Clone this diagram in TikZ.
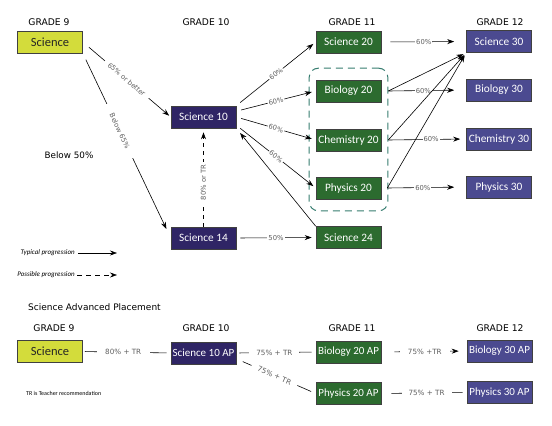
\documentclass[tikz,border=0pt]{standalone}
\usepackage{fontspec}
\setmainfont{Carlito}
\newfontfamily\hdrfont{DejaVu Sans}
\usetikzlibrary{arrows.meta,fit,calc}
\definecolor{yel}{RGB}{211,220,59}
\definecolor{purp}{RGB}{47,37,101}
\definecolor{grn}{RGB}{44,107,47}
\definecolor{blu}{RGB}{75,74,144}
\definecolor{teal2}{RGB}{55,125,112}
\definecolor{lblgray}{RGB}{95,95,95}
\tikzset{
  box/.style={minimum width=65pt, minimum height=22pt, inner sep=0pt, draw=black!75, line width=0.6pt, text=white, font=\fontsize{11.3}{13}\selectfont},
  yelbox/.style={box, fill=yel, text=black!85, font=\fontsize{12.5}{14}\selectfont},
  purpbox/.style={box, fill=purp},
  grnbox/.style={box, fill=grn},
  blubox/.style={box, fill=blu},
  apbox/.style={font=\fontsize{11}{13}\selectfont},
  hdr/.style={font=\hdrfont\fontsize{9.2}{11}\selectfont, inner sep=0pt},
  lbl/.style={font=\hdrfont\fontsize{6.8}{8}\selectfont, text=lblgray, fill=white, inner ysep=1pt, inner xsep=1pt},
  aplbl/.style={lbl, font=\hdrfont\fontsize{7.2}{8}\selectfont},
  arr/.style={-{Stealth[length=7pt,width=5pt]}, line width=0.6pt},
  ln/.style={line width=0.6pt},
  legtext/.style={font=\itshape\fontsize{7}{8}\selectfont, inner sep=0pt, anchor=east},
}
\begin{document}
\begin{tikzpicture}[x=1pt,y=-1pt]
\useasboundingbox[fill=white] (0,0) rectangle (552,426);

% ---------- headers ----------
\node[hdr] (h9) at (49,22) {GRADE 9};
\node[hdr] (h10) at (206,22) {GRADE 10};
\node[hdr] (h11) at (352,22) {GRADE 11};
\node[hdr] (h12) at (500,22) {GRADE 12};

% ---------- nodes ----------
\node[yelbox] (sci9) at (50,42) {Science};
\node[purpbox] (sci10) at (203.5,117) {Science 10};
\node[purpbox] (sci14) at (203.5,238) {Science 14};
\node[grnbox] (sci20) at (348.5,42) {Science 20};
\node[grnbox] (bio20) at (348.5,91) {Biology 20};
\node[grnbox] (chem20) at (348.5,140) {Chemistry 20};
\node[grnbox] (phys20) at (348.5,188) {Physics 20};
\node[grnbox] (sci24) at (348.5,237.5) {Science 24};
\node[blubox] (sci30) at (499,41.5) {Science 30};
\node[blubox] (bio30) at (499,90) {Biology 30};
\node[blubox] (chem30) at (499,139) {Chemistry 30};
\node[blubox] (phys30) at (499,187) {Physics 30};

\node[hdr, font=\hdrfont\fontsize{8.8}{10}\selectfont] (b50) at (69,155) {Below 50\%};

% dashed group
\node[draw=teal2, line width=1pt, dash pattern=on 7pt off 5pt, rounded corners=9pt,
      inner xsep=6.5pt, inner ysep=11.5pt, fit=(bio20)(phys20)] (grp) {};

% ---------- connectors ----------
\draw[arr, shorten <=8pt, shorten >=2pt] (sci9.east) -- node[lbl, sloped, pos=0.5, inner xsep=5pt] {65\% or better} (sci10.west);
\draw[arr, shorten <=7pt, shorten >=10pt] (sci9.south east) -- node[lbl, sloped, pos=0.42, inner xsep=11pt] {Below 65\%} (sci14.west);

\draw[arr, dash pattern=on 4pt off 4pt, shorten <=0pt, shorten >=4pt] (sci14.north) -- node[lbl, sloped, pos=0.45, inner xsep=3pt] {80\% or TR} (sci10.south);

\draw[arr, shorten <=5pt, shorten >=3pt] (sci10.north east) -- node[lbl, sloped, pos=0.5] {60\%} (sci20.west);
\draw[arr, shorten <=5pt, shorten >=4pt] (sci10.10) -- node[lbl, sloped, pos=0.5] {60\%} (bio20.west);
\draw[arr, shorten <=5pt, shorten >=4pt] (sci10.0) -- node[lbl, sloped, pos=0.5] {60\%} (chem20.west);
\draw[arr, shorten <=5pt, shorten >=3pt] (sci10.-14) -- node[lbl, sloped, pos=0.5] {60\%} (phys20.west);

\draw[arr, shorten >=6pt] (sci24.north west) -- (sci10.south east);
\draw[arr, shorten <=4pt, shorten >=4pt] (sci14.east) -- node[lbl, pos=0.5] {50\%} (sci24.west);

\coordinate (bioR) at ([xshift=7pt]bio20.east);
\coordinate (chemR) at ([xshift=7pt]chem20.east);
\coordinate (physR) at ([xshift=6pt]phys20.east);

\draw[arr, shorten <=9pt, shorten >=12pt] (sci20.east) -- node[lbl, pos=0.5] {60\%} (sci30.west);
\draw[arr, shorten >=12pt] (bioR) -- node[lbl, pos=0.45] {60\%} (bio30.west);
\draw[arr, shorten >=6pt] (chemR) -- node[lbl, pos=0.55] {60\%} (chem30.west);
\draw[arr, shorten >=12pt] (physR) -- node[lbl, pos=0.45] {60\%} (phys30.west);

\draw[arr, shorten >=3pt] (bioR) -- (sci30.south west);
\draw[arr, shorten >=3pt] (chemR) -- (sci30.south west);
\draw[arr, shorten >=3pt] (physR) -- (sci30.south west);

% ---------- legend ----------
\node[legtext] (legT) at (75,253) {Typical progression};
\node[legtext] (legP) at (75,275) {Possible progression};
\coordinate (legTend) at (117,253);
\coordinate (legPend) at (117,275);
\draw[arr] ([xshift=3pt]legT.east) -- (legTend);
\draw[arr, dash pattern=on 5pt off 4pt] ([xshift=2pt]legP.east) -- (legPend);

% ---------- Advanced Placement ----------
\node[hdr, anchor=west, font=\hdrfont\fontsize{9}{11}\selectfont] (sap) at (28,307) {Science Advanced Placement};
\node[hdr] (a9) at (54,328) {GRADE 9};
\node[hdr] (a10) at (206,328) {GRADE 10};
\node[hdr] (a11) at (352,328) {GRADE 11};
\node[hdr] (a12) at (500,328) {GRADE 12};

\node[yelbox] (sci9ap) at (50,351.5) {Science};
\node[purpbox, apbox] (sci10ap) at (203.5,353) {Science 10 AP};
\node[grnbox, apbox] (bio20ap) at (348.5,352) {Biology 20 AP};
\node[blubox, apbox] (bio30ap) at (499.5,351) {Biology 30 AP};
\node[grnbox, apbox] (phys20ap) at (348.5,393.5) {Physics 20 AP};
\node[blubox, apbox] (phys30ap) at (499.5,392.5) {Physics 30 AP};

\node[font=\fontsize{6}{7}\selectfont, inner sep=0pt, anchor=west] (trnote) at (26,393) {TR is Teacher recommendation};

\draw[ln, shorten <=2pt, shorten >=4pt] (sci9ap.east) -- node[aplbl, pos=0.46, inner xsep=8.5pt] {80\% + TR} (sci10ap.west);
\draw[ln, shorten <=3pt, shorten >=4pt] (sci10ap.east) -- node[aplbl, pos=0.48, inner xsep=7pt] {75\% + TR} (bio20ap.west);
\draw[ln, shorten <=7pt, shorten >=5pt] (sci10ap.-10) -- node[aplbl, sloped, pos=0.48, inner xsep=7pt] {75\% + TR} (phys20ap.west);
\draw[arr, shorten <=13pt, shorten >=8pt] (bio20ap.east) -- node[aplbl, pos=0.51, inner xsep=8pt] {75\% +TR} (bio30ap.west);
\draw[ln, shorten <=10pt, shorten >=4pt] (phys20ap.east) -- node[aplbl, pos=0.53, inner xsep=7pt] {75\% + TR} (phys30ap.west);

\end{tikzpicture}
\end{document}
